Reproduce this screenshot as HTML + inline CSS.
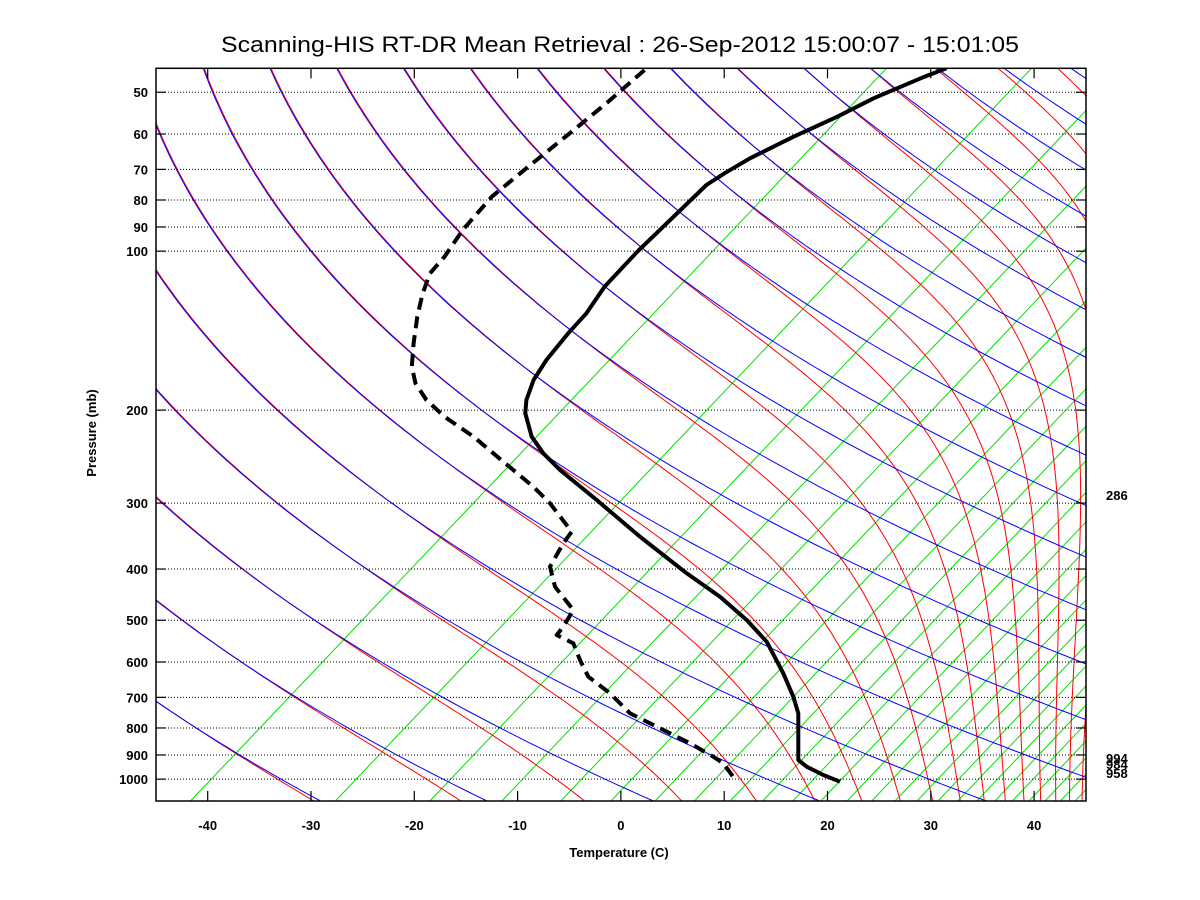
<!DOCTYPE html>
<html><head><meta charset="utf-8"><style>
html,body{margin:0;padding:0;background:#fff;}
svg{display:block;font-family:"Liberation Sans",sans-serif;}
.t{font-weight:bold;font-size:13px;}
</style></head><body>
<svg id="s" width="1200" height="900" viewBox="0 0 1200 900" xmlns="http://www.w3.org/2000/svg">
<defs><clipPath id="c"><rect x="156" y="68" width="930" height="733"/></clipPath></defs>
<rect width="1200" height="900" fill="#fff"/>
<g id="bg" clip-path="url(#c)"></g>
<g id="grid"></g>
<g clip-path="url(#c)" fill="none" stroke="#000" stroke-linejoin="round" stroke-linecap="butt">
<polyline stroke-width="4" points="946.4,68.3 924.5,76.7 873.6,98.3 837.3,116.7 793.6,136.7 750,158.3 724.5,173.3 706.4,185 673.6,216.7 637.3,251.7 604.5,286.7 586.4,313.3 568.2,333.3 546.4,360 533.6,380 526.4,400 525.3,413.3 531.7,436.7 543.3,453.3 560,470 596.7,500 640,536.7 686.7,573.3 720,596.7 746.7,620 766.7,641.7 783.3,673.3 793.3,696.7 798.3,713.3 798.3,760 806.7,766.7 823.3,775 840,781.7"/>
<polyline stroke-width="4" stroke-dasharray="12,7" points="644.5,70 608.2,101.7 571.8,131.7 528.2,166.7 491.8,196.7 462.7,230 444.5,256.7 430,273.3 422.7,293.3 417.3,316.7 413.6,343.3 411.8,366.7 415.5,383.3 426.4,400 444.5,416.7 473.6,436.7 503.3,461.7 533.3,486.7 550,503.3 571.7,531.7 563.3,543.3 550,566.7 555,586.7 573.3,610 563.3,626.7 556.7,635 573.3,643.3 580,660 588.3,676.7 610,693.3 630,713.3 660,728.3 690,743.3 713.3,756.7 723.3,763.3 736.7,781.7"/>
</g>
<rect x="156" y="68.3" width="930" height="732.7" fill="none" stroke="#000" stroke-width="1.5"/>
<g id="ticks" stroke="#000" stroke-width="1.2"></g>
<g id="labs" class="t"></g>
<text x="620" y="52" font-size="22" text-anchor="middle" textLength="798" lengthAdjust="spacingAndGlyphs">Scanning-HIS RT-DR Mean Retrieval : 26-Sep-2012 15:00:07 - 15:01:05</text>
<text x="619" y="857" class="t" font-size="15" text-anchor="middle">Temperature (C)</text>
<text transform="translate(96,433) rotate(-90)" class="t" font-size="15" text-anchor="middle">Pressure (mb)</text>
<text x="1106" y="500" class="t">286</text>
<text x="1106" y="763" class="t">994</text>
<text x="1106" y="769" class="t">984</text>
<text x="1106" y="778" class="t">958</text>
</svg>
<script>
(function(){
var NS="http://www.w3.org/2000/svg";
function yOf(p){return 801-229.3*Math.log(1100/p);}
function pi(p){return Math.pow(p/1000,0.286);}
function xT(T,p){return -2303+130.7*pi(p)+10.33*(T+273.15)-336*Math.log(p/1000);}
function es(T){return 6.112*Math.exp(17.67*T/(T+243.5));}
function the(T,p){var e=es(T);if(e>0.6*p)return 1e9;var w=0.622*e/(p-e);var K=T+273.15;return K*Math.pow(1000/p,0.286)*Math.exp(2.5e6*w/(1005*K));}
var ps=[];for(var i=0;i<=140;i++){ps.push(45*Math.pow(1100/45,i/140));}
var bg=document.getElementById('bg');
function poly(pts,col,dx){var e=document.createElementNS(NS,'polyline');e.setAttribute('points',pts.join(' '));e.setAttribute('fill','none');e.setAttribute('stroke',col);e.setAttribute('stroke-width','1');if(dx)e.setAttribute('transform','translate('+dx+',0)');bg.appendChild(e);}
// green mixing ratio (straight, near-parallel)
for(var n=1;n<=27;n++){var w=0.09*n*n;var p=1100;var e=w*p/(622+w);var L=Math.log(e/6.112);var Td=243.5*L/(17.67-L);var x0=xT(Td,p);
poly([x0.toFixed(1)+',801',(x0+0.95*733).toFixed(1)+',68'],'#00e000');}
// red moist
for(var k=-2;k<=24;k++){var th=237.6+15.68*k,pts=[];for(var j=0;j<ps.length;j++){var p=ps[j];var lo=-170,hi=70;for(var it=0;it<40;it++){var m=(lo+hi)/2;if(the(m,p)<th)lo=m;else hi=m;}pts.push(xT(lo,p).toFixed(1)+','+yOf(p).toFixed(1));}poly(pts,'#ff0000');}
// blue dry
for(var k=-2;k<=24;k++){var th=237.6+15.68*k,pts=[];for(var j=0;j<ps.length;j++){var p=ps[j];pts.push(xT(th*pi(p)-273.15,p).toFixed(1)+','+yOf(p).toFixed(1));}poly(pts,'#0000ff',-1);}
// grid
var g=document.getElementById('grid'),tk=document.getElementById('ticks'),lb=document.getElementById('labs');
var P=[50,60,70,80,90,100,200,300,400,500,600,700,800,900,1000];
P.forEach(function(p){var y=yOf(p);var l=document.createElementNS(NS,'line');l.setAttribute('x1',156);l.setAttribute('x2',1086);l.setAttribute('y1',y);l.setAttribute('y2',y);l.setAttribute('stroke','#000');l.setAttribute('stroke-width','1');l.setAttribute('stroke-dasharray','1,2');g.appendChild(l);
[[156,166],[1076,1086]].forEach(function(a){var t=document.createElementNS(NS,'line');t.setAttribute('x1',a[0]);t.setAttribute('x2',a[1]);t.setAttribute('y1',y);t.setAttribute('y2',y);tk.appendChild(t);});
var tx=document.createElementNS(NS,'text');tx.setAttribute('x',148);tx.setAttribute('y',y+5);tx.setAttribute('text-anchor','end');tx.textContent=p;lb.appendChild(tx);});
for(var T=-40;T<=40;T+=10){var x=207.7+10.33*(T+40);[[801,791],[68.3,78.3]].forEach(function(a){var t=document.createElementNS(NS,'line');t.setAttribute('x1',x);t.setAttribute('x2',x);t.setAttribute('y1',a[0]);t.setAttribute('y2',a[1]);tk.appendChild(t);});
var tx=document.createElementNS(NS,'text');tx.setAttribute('x',x);tx.setAttribute('y',830);tx.setAttribute('text-anchor','middle');tx.textContent=T;lb.appendChild(tx);}
})();
</script>
</body></html>
